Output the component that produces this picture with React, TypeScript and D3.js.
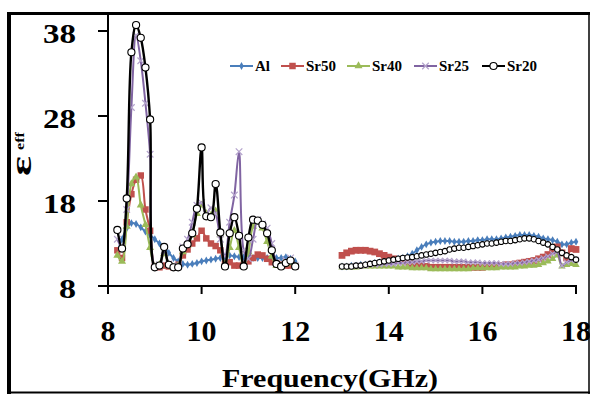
import React from 'react';
import * as d3 from 'd3';

// Frequency categories (GHz)
const freqX = [8.2, 8.3, 8.4, 8.5, 8.6, 8.7, 8.8, 8.9, 9.0, 9.1, 9.2, 9.3, 9.4, 9.5, 9.6, 9.7, 9.8, 9.9, 10.0, 10.1, 10.2, 10.3, 10.4, 10.5, 10.6, 10.7, 10.8, 10.9, 11.0, 11.1, 11.2, 11.3, 11.4, 11.5, 11.6, 11.7, 11.8, 11.9, 12.0];
const freqKu = [13.0, 13.1, 13.2, 13.3, 13.4, 13.5, 13.6, 13.7, 13.8, 13.9, 14.0, 14.1, 14.2, 14.3, 14.4, 14.5, 14.6, 14.7, 14.8, 14.9, 15.0, 15.1, 15.2, 15.3, 15.4, 15.5, 15.6, 15.7, 15.8, 15.9, 16.0, 16.1, 16.2, 16.3, 16.4, 16.5, 16.6, 16.7, 16.8, 16.9, 17.0, 17.1, 17.2, 17.3, 17.4, 17.5, 17.6, 17.7, 17.8, 17.9, 18.0];

// Series values (eps_eff)
const alX = [12.0, 13.5, 14.8, 15.4, 15.3, 14.9, 14.4, 14.0, 13.5, 13.0, 12.5, 11.9, 11.3, 10.9, 10.6, 10.5, 10.6, 10.7, 10.9, 11.0, 11.1, 11.2, 11.3, 11.4, 11.6, 11.5, 11.4, 11.4, 11.4, 11.3, 11.3, 11.3, 11.3, 11.2, 11.3, 11.3, 11.4, 11.2, 10.9];
const sr50X = [12.2, 11.3, 15.5, 18.8, 20.5, 21.0, 17.0, 14.5, 10.3, 10.2, 10.4, 10.3, 10.2, 10.5, 11.6, 12.3, 13.0, 13.6, 14.5, 13.6, 13.0, 12.7, 12.2, 10.6, 10.8, 10.4, 10.4, 10.5, 10.9, 11.3, 11.7, 11.6, 11.2, 10.8, 10.6, 10.5, 10.4, 10.4, 10.3];
const sr40X = [11.6, 10.9, 15.0, 20.0, 20.8, 17.5, 15.2, 12.5, 10.3, 10.5, 11.8, 10.5, 10.2, 10.4, 12.0, 12.8, 14.0, 16.5, 17.5, 16.5, 16.3, 16.8, 14.0, 10.5, 12.5, 14.5, 12.5, 10.3, 12.0, 15.0, 15.5, 14.8, 13.2, 11.5, 10.4, 10.3, 10.6, 10.7, 10.3];
const sr25X = [13.5, 12.5, 17.0, 29.0, 37.5, 34.5, 29.5, 23.5, 10.4, 10.5, 12.2, 10.6, 10.3, 10.4, 12.6, 13.5, 15.5, 17.5, 17.8, 16.5, 17.2, 16.5, 13.5, 11.5, 15.5, 18.7, 23.8, 12.2, 11.2, 13.5, 15.8, 15.3, 14.8, 13.0, 10.8, 10.5, 11.0, 11.3, 10.4];
const sr20X = [14.6, 12.4, 18.3, 35.5, 38.7, 37.2, 33.7, 27.6, 10.2, 10.4, 12.6, 10.5, 10.2, 10.2, 12.4, 12.9, 14.2, 17.1, 24.3, 16.2, 16.1, 20.0, 14.3, 10.3, 14.2, 16.1, 13.9, 10.3, 13.7, 15.8, 15.7, 15.2, 14.2, 12.2, 10.6, 10.3, 10.7, 11.0, 10.3];

const alKu = [10.3, 10.3, 10.4, 10.4, 10.5, 10.5, 10.6, 10.7, 10.8, 10.9, 11.0, 11.1, 11.2, 11.3, 11.5, 11.8, 12.2, 12.6, 12.9, 13.1, 13.2, 13.3, 13.3, 13.3, 13.2, 13.2, 13.2, 13.3, 13.3, 13.4, 13.4, 13.5, 13.5, 13.5, 13.6, 13.7, 13.8, 13.9, 14.0, 14.0, 14.0, 13.9, 13.8, 13.6, 13.5, 13.4, 13.2, 12.9, 12.9, 13.1, 13.2];
const sr50Ku = [11.6, 11.9, 12.1, 12.2, 12.2, 12.2, 12.1, 12.0, 11.8, 11.6, 11.4, 11.2, 11.0, 10.9, 10.8, 10.6, 10.5, 10.4, 10.3, 10.2, 10.2, 10.2, 10.2, 10.2, 10.2, 10.2, 10.2, 10.2, 10.2, 10.2, 10.2, 10.3, 10.3, 10.4, 10.4, 10.5, 10.5, 10.6, 10.7, 10.8, 10.9, 11.0, 11.2, 11.4, 11.7, 12.1, 12.6, 11.9, 11.3, 12.4, 12.3];
const sr40Ku = [10.2, 10.2, 10.2, 10.2, 10.3, 10.3, 10.3, 10.3, 10.3, 10.3, 10.3, 10.3, 10.2, 10.2, 10.2, 10.1, 10.1, 10.1, 10.1, 10.0, 10.0, 10.0, 10.0, 10.0, 10.0, 10.0, 10.0, 10.0, 10.1, 10.1, 10.1, 10.1, 10.1, 10.1, 10.2, 10.2, 10.2, 10.2, 10.3, 10.3, 10.4, 10.4, 10.5, 10.7, 10.9, 11.2, 11.6, 10.3, 10.5, 10.6, 10.5];
const sr25Ku = [10.3, 10.3, 10.3, 10.4, 10.4, 10.4, 10.5, 10.5, 10.5, 10.6, 10.6, 10.6, 10.7, 10.7, 10.8, 10.8, 10.9, 10.9, 11.0, 11.0, 11.0, 11.0, 11.0, 11.0, 10.9, 10.9, 10.9, 10.8, 10.8, 10.8, 10.7, 10.7, 10.7, 10.7, 10.6, 10.6, 10.6, 10.7, 10.7, 10.8, 10.9, 11.0, 11.1, 11.3, 11.5, 11.8, 12.0, 10.4, 10.8, 11.0, 11.1];
const sr20Ku = [10.3, 10.3, 10.3, 10.4, 10.4, 10.5, 10.6, 10.7, 10.8, 10.9, 11.0, 11.1, 11.2, 11.3, 11.35, 11.4, 11.5, 11.6, 11.7, 11.8, 11.9, 12.0, 12.1, 12.3, 12.4, 12.5, 12.5, 12.6, 12.7, 12.8, 12.9, 13.0, 13.0, 13.1, 13.2, 13.3, 13.3, 13.4, 13.5, 13.6, 13.6, 13.5, 13.3, 13.1, 12.9, 12.6, 12.3, 11.9, 11.6, 11.4, 11.1];

const seriesNames = ['Al', 'Sr50', 'Sr40', 'Sr25', 'Sr20'];
const xTicks = [8, 10, 12, 14, 16, 18];
const yTicks = [8, 18, 28, 38];

const FONT = "Liberation Serif";

const seriesDefs = [
  { name: seriesNames[0], segs: [alX, alKu], color: '#4a7ebb', mColor: '#4a7ebb', shape: 'diamond', width: 2 },
  { name: seriesNames[1], segs: [sr50X, sr50Ku], color: '#c0504d', mColor: '#c0504d', shape: 'square', width: 2 },
  { name: seriesNames[2], segs: [sr40X, sr40Ku], color: '#9bbb59', mColor: '#9bbb59', shape: 'triangle', width: 2 },
  { name: seriesNames[3], segs: [sr25X, sr25Ku], color: '#8064a2', mColor: '#b4a3cc', shape: 'x', width: 2 },
  { name: seriesNames[4], segs: [sr20X, sr20Ku], color: '#000000', mColor: '#000000', shape: 'circle', width: 2.4 },
];
const segFreqs = [freqX, freqKu];

const x = d3.scaleLinear().domain([8, 18]).range([108, 576]);
const y = d3.scaleLinear().domain([8, 40]).range([286, 14]);

function markerPath(shape: string, seg: number) {
  const s = d3.symbol();
  if (shape === 'diamond') return s.type(d3.symbolDiamond).size(18)();
  if (shape === 'square') return s.type(d3.symbolSquare).size(seg === 0 ? 42 : 46)();
  if (shape === 'triangle') return s.type(d3.symbolTriangle).size(seg === 0 ? 28 : 24)();
  if (shape === 'x') return s.type(d3.symbolX).size(seg === 0 ? 30 : 20)();
  return s.type(d3.symbolCircle).size(seg === 0 ? 40 : 24)();
}

function Marker({ shape, cx, cy, color, seg }: any) {
  const d = markerPath(shape, seg);
  if (shape === 'x') return <path d={d} transform={`translate(${cx},${cy})`} fill="none" stroke={color} strokeWidth={1.2} />;
  if (shape === 'circle') return <path d={d} transform={`translate(${cx},${cy})`} fill="#fff" stroke={color} strokeWidth={1.1} />;
  return <path d={d} transform={`translate(${cx},${cy})`} fill={color} />;
}

const line = d3.line<[number, number]>()
  .x(d => x(d[0]))
  .y(d => y(d[1]))
  .curve(d3.curveCatmullRom.alpha(0.5));

const legendItems = [
  { lx: 230, tx: 255 },
  { lx: 281, tx: 306 },
  { lx: 347, tx: 372 },
  { lx: 414, tx: 439 },
  { lx: 482, tx: 507 },
];

export default function App() {
  return (
    <svg width={590} height={394} style={{ position: 'absolute', left: 0, top: 0, background: '#fff', fontFamily: FONT }}>
      <rect x={0} y={0} width={590} height={394} fill="#fff" />
      {/* frame */}
      <line x1={7} y1={13.5} x2={590} y2={13.5} stroke="#000" strokeWidth={3} />
      <line x1={9} y1={12} x2={9} y2={394} stroke="#000" strokeWidth={4} />
      <line x1={589} y1={12} x2={589} y2={394} stroke="#000" strokeWidth={1.5} />
      <line x1={7} y1={392.5} x2={590} y2={392.5} stroke="#000" strokeWidth={2} />

      {/* series */}
      {seriesDefs.map((s) => (
        <g key={s.name}>
          {s.segs.map((vals, gi) => {
            const pts = segFreqs[gi].map((f, i) => [f, vals[i]] as [number, number]);
            return (
              <g key={gi}>
                <path d={line(pts) || ''} fill="none" stroke={s.color} strokeWidth={s.width} />
                {pts.map((p, i) => (
                  <Marker key={i} shape={s.shape} cx={x(p[0])} cy={y(p[1])} color={s.mColor} seg={gi} />
                ))}
              </g>
            );
          })}
        </g>
      ))}

      {/* axes */}
      <line x1={108} y1={y(8)} x2={108} y2={14} stroke="#000" strokeWidth={2} />
      <line x1={108} y1={y(8)} x2={577} y2={y(8)} stroke="#000" strokeWidth={2} />
      {yTicks.map(t => (
        <g key={t}>
          <line x1={98} x2={108} y1={y(t)} y2={y(t)} stroke="#000" strokeWidth={2} />
          <text x={76} y={y(t) + 11.5} textAnchor="end" fontSize={27} fontWeight="bold"
            textLength={String(t).length === 1 ? 17 : 33} lengthAdjust="spacingAndGlyphs">{t}</text>
        </g>
      ))}
      {xTicks.map(t => (
        <g key={t}>
          <line x1={x(t)} x2={x(t)} y1={y(8)} y2={y(8) + 8} stroke="#000" strokeWidth={2} />
          <text x={x(t)} y={341} textAnchor="middle" fontSize={30} fontWeight="bold">{t}</text>
        </g>
      ))}

      {/* axis titles */}
      <text x={330} y={387} textAnchor="middle" fontSize={25} fontWeight="bold"
        textLength={216} lengthAdjust="spacingAndGlyphs">Frequency(GHz)</text>
      <g transform="translate(31,176) rotate(-90)">
        <text x={0} y={0} fontSize={30} fontWeight="bold" textLength={20} lengthAdjust="spacingAndGlyphs">ε</text>
        <text x={26} y={-7} fontSize={13} fontWeight="bold" textLength={18} lengthAdjust="spacingAndGlyphs">eff</text>
      </g>

      {/* legend */}
      {seriesDefs.map((s, i) => {
        const it = legendItems[i];
        return (
          <g key={s.name}>
            <line x1={it.lx} x2={it.lx + 23} y1={66} y2={66} stroke={s.color} strokeWidth={2} />
            <Marker shape={s.shape} cx={it.lx + 11.5} cy={66} color={s.mColor} seg={0} />
            <text x={it.tx} y={70.5} fontSize={15} fontWeight="bold">{s.name}</text>
          </g>
        );
      })}
    </svg>
  );
}
